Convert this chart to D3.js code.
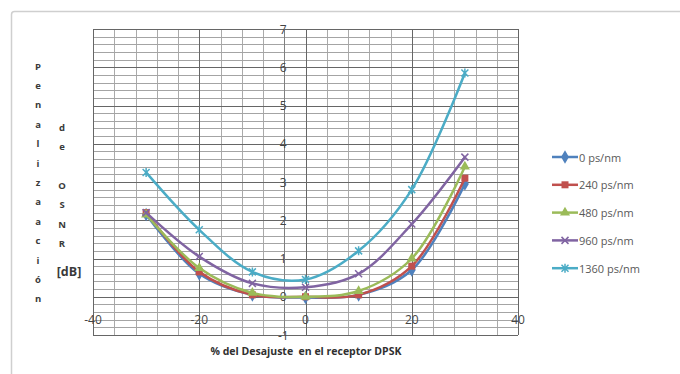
<!DOCTYPE html>
<html>
<head>
<meta charset="utf-8">
<script src="https://cdn.jsdelivr.net/npm/d3@7/dist/d3.min.js"></script>
<style>
  html, body { margin: 0; padding: 0; background: #fff; }
  svg { display: block; font-family: "Open Sans", "Liberation Sans", sans-serif; }
</style>
</head>
<body>
<svg id="chart" width="680" height="374"></svg>
<script>
// Desajuste (%) del receptor DPSK
const desajuste = [-30, -20, -10, 0, 10, 20, 30];

// Penalización de OSNR [dB] para cada dispersión acumulada
const serie0    = [2.15, 0.6, 0.05, -0.02, 0.05, 0.7, 2.95];
const serie240  = [2.2, 0.65, 0.05, 0.0, 0.05, 0.8, 3.1];
const serie480  = [2.15, 0.75, 0.1, 0.0, 0.15, 1.0, 3.4];
const serie960  = [2.2, 1.05, 0.35, 0.25, 0.6, 1.9, 3.65];
const serie1360 = [3.25, 1.75, 0.65, 0.45, 1.2, 2.8, 5.85];

const nombres = ["0 ps/nm", "240 ps/nm", "480 ps/nm", "960 ps/nm", "1360 ps/nm"];
const colores = ["#4F81BD", "#C0504D", "#9BBB59", "#8064A2", "#4BACC6"];
const marcadores = ["diamond", "square", "triangle", "x", "asterisk"];

const xTicks = [-40, -20, 0, 20, 40];
const yTicks = [-1, 0, 1, 2, 3, 4, 5, 6, 7];

const tituloY1 = "Penalizaación";
const tituloY2 = "de OSNR";
const tituloY3 = "[dB]";
const tituloX = "% del Desajuste  en el receptor DPSK";

const series = [serie0, serie240, serie480, serie960, serie1360].map((v, i) => ({
  nombre: nombres[i], color: colores[i], marcador: marcadores[i],
  puntos: desajuste.map((d, j) => ({ x: d, y: v[j] }))
}));

const svg = d3.select("#chart");

// Marco del gráfico
svg.append("rect")
  .attr("x", 11.5).attr("y", 11.5)
  .attr("width", 700).attr("height", 400)
  .attr("rx", 3)
  .attr("fill", "#fff").attr("stroke", "#cfcfcf").attr("stroke-width", 1.5);

const plot = { left: 93, top: 29, right: 518, bottom: 335 };
const x = d3.scaleLinear().domain([-40, 40]).range([plot.left, plot.right]);
const y = d3.scaleLinear().domain([-1, 7]).range([plot.bottom, plot.top]);

// Cuadrícula secundaria
const grid = svg.append("g");
const xMinor = d3.range(-40, 40.001, 4);
const yMinor = d3.range(-1, 7.001, 0.2);
grid.selectAll("line.xm").data(xMinor).join("line")
  .attr("x1", d => Math.round(x(d)) + 0.5).attr("x2", d => Math.round(x(d)) + 0.5)
  .attr("y1", plot.top).attr("y2", plot.bottom)
  .attr("stroke", "#aaaaaa").attr("stroke-width", 1);
grid.selectAll("line.ym").data(yMinor).join("line")
  .attr("y1", d => Math.round(y(d)) + 0.5).attr("y2", d => Math.round(y(d)) + 0.5)
  .attr("x1", plot.left).attr("x2", plot.right)
  .attr("stroke", "#a4a4a4").attr("stroke-width", 1);

// Cuadrícula principal
grid.selectAll("line.xM").data(xTicks).join("line")
  .attr("x1", d => Math.round(x(d)) + 0.5).attr("x2", d => Math.round(x(d)) + 0.5)
  .attr("y1", plot.top).attr("y2", plot.bottom)
  .attr("stroke", "#666666").attr("stroke-width", 1);
grid.selectAll("line.yM").data(yTicks).join("line")
  .attr("y1", d => Math.round(y(d)) + 0.5).attr("y2", d => Math.round(y(d)) + 0.5)
  .attr("x1", plot.left).attr("x2", plot.right)
  .attr("stroke", "#666666").attr("stroke-width", 1);

// Eje vertical (cruza en x = -4) y eje horizontal (etiquetas en y = -0.6)
const cruceX = -4, cruceY = -0.6;
svg.append("line")
  .attr("x1", Math.round(x(cruceX)) + 0.5).attr("x2", Math.round(x(cruceX)) + 0.5)
  .attr("y1", plot.top).attr("y2", plot.bottom)
  .attr("stroke", "#808080");

const etiq = svg.append("g").attr("font-size", 12).attr("fill", "#454545");
etiq.selectAll("text.yt").data(yTicks).join("text")
  .attr("x", x(cruceX) - 1).attr("y", d => y(d))
  .attr("text-anchor", "middle").attr("dominant-baseline", "central")
  .text(d => d);
etiq.selectAll("text.xt").data(xTicks).join("text")
  .attr("x", d => x(d)).attr("y", y(cruceY))
  .attr("text-anchor", "middle").attr("dominant-baseline", "central")
  .text(d => d);

// Curvas suavizadas
const linea = d3.line().x(d => x(d.x)).y(d => y(d.y)).curve(d3.curveCatmullRom.alpha(0.5));

function marcador(g, tipo, color, size) {
  const s = size;
  if (tipo === "diamond") {
    g.append("path").attr("d", d3.symbol(d3.symbolDiamond, s * s * 1.1)()).attr("fill", color);
  } else if (tipo === "square") {
    g.append("rect").attr("x", -s / 2).attr("y", -s / 2).attr("width", s).attr("height", s).attr("fill", color);
  } else if (tipo === "triangle") {
    g.append("path").attr("d", d3.symbol(d3.symbolTriangle, s * s * 0.9)()).attr("fill", color);
  } else if (tipo === "x") {
    const h = s / 2;
    g.append("path").attr("d", `M${-h},${-h}L${h},${h}M${-h},${h}L${h},${-h}`)
      .attr("stroke", color).attr("stroke-width", 1.5).attr("fill", "none");
  } else {
    const h = s / 2;
    g.append("path").attr("d", `M${-h},${-h}L${h},${h}M${-h},${h}L${h},${-h}M0,${-h - 1}L0,${h + 1}`)
      .attr("stroke", color).attr("stroke-width", 1.5).attr("fill", "none");
  }
}

series.forEach(s => {
  svg.append("path").datum(s.puntos)
    .attr("d", linea).attr("fill", "none")
    .attr("stroke", s.color).attr("stroke-width", 2.5)
    .attr("stroke-linejoin", "round").attr("stroke-linecap", "round");
  s.puntos.forEach(p => {
    const g = svg.append("g").attr("transform", `translate(${x(p.x)},${y(p.y)})`);
    marcador(g, s.marcador, s.color, 7);
  });
});

// Leyenda
const leyenda = svg.append("g");
series.forEach((s, i) => {
  const yy = 157 + i * 27.8;
  leyenda.append("line").attr("x1", 552).attr("x2", 578).attr("y1", yy).attr("y2", yy)
    .attr("stroke", s.color).attr("stroke-width", 2.5);
  const g = leyenda.append("g").attr("transform", `translate(565,${yy})`);
  marcador(g, s.marcador, s.color, 7);
  leyenda.append("text").attr("x", 579).attr("y", yy)
    .attr("dominant-baseline", "central").attr("font-size", 11).attr("fill", "#595959")
    .text(s.nombre);
});

// Título del eje Y en letras apiladas
const tY = svg.append("g").attr("font-size", 9.5).attr("font-weight", "bold").attr("fill", "#3a3a3a")
  .attr("text-anchor", "middle");
const paso = 19.4;
Array.from(tituloY1).forEach((c, i) => {
  tY.append("text").attr("x", 38).attr("y", 66 + i * paso).attr("dominant-baseline", "central").text(c);
});
const col2 = Array.from(tituloY2);
col2.forEach((c, i) => {
  if (c !== " ") tY.append("text").attr("x", 62).attr("y", 127 + i * paso).attr("dominant-baseline", "central").text(c);
});
svg.append("text").attr("x", 69).attr("y", 271).attr("text-anchor", "middle")
  .attr("dominant-baseline", "central").attr("font-size", 12.5).attr("font-weight", "bold")
  .attr("fill", "#3a3a3a").text(tituloY3);

// Título del eje X
svg.append("text").attr("x", 306).attr("y", 351).attr("text-anchor", "middle")
  .attr("dominant-baseline", "central").attr("font-size", 10.5).attr("font-weight", "bold")
  .attr("fill", "#303030").attr("xml:space", "preserve").style("white-space", "pre")
  .text(tituloX);
</script>
</body>
</html>
